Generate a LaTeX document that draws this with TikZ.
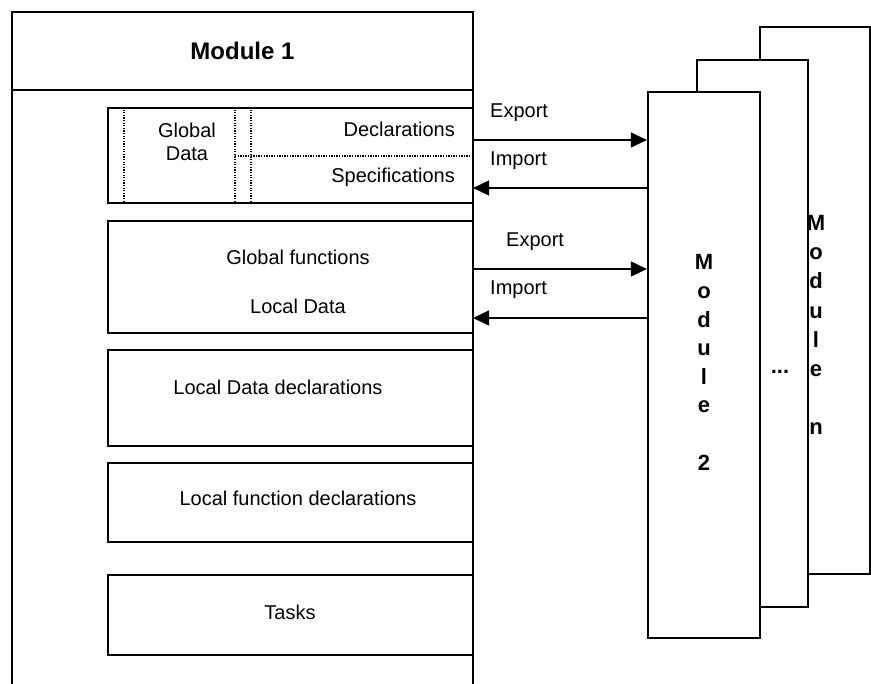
\documentclass[tikz,border=0pt]{standalone}
\usepackage{fontspec}
\setmainfont{Liberation Sans}
\usetikzlibrary{arrows.meta}

\begin{document}
\begin{tikzpicture}[x=1pt, y=-1pt,
  partbox/.style={draw, rectangle, line width=1.4pt, minimum width=365pt, inner sep=0pt},
  modbox/.style={draw, rectangle, line width=2.2pt, fill=white, inner sep=0pt},
  lbl/.style={font=\fontsize{20}{23}\selectfont, inner sep=0pt, align=center},
  modtext/.style={font=\fontsize{22}{28.6}\selectfont\bfseries, inner sep=0pt, align=center},
  dotline/.style={line width=1.2pt, dash pattern=on 1.3pt off 1.3pt},
  arr/.style={line width=1.2pt, -{Triangle[length=16pt, width=15pt]}}]
\useasboundingbox (0,0) rectangle (871,684);

% module 1
\node[inner sep=0pt, outer sep=0pt, minimum width=461pt, minimum height=78pt, font=\fontsize{24}{28}\selectfont\bfseries] (mone) at (242.5,51) {Module 1};
\draw[line width=2.2pt] (12,684) -- (mone.north west) -- (mone.north east) -- (473,684);
\draw[line width=1.4pt] (mone.south west) -- (mone.south east);

\node[partbox, minimum height=95pt, line width=2pt] (gdata) at (290.5,155.5) {};
\node[partbox, minimum height=112pt] (gfun) at (290.5,277) {};
\node[partbox, minimum height=96pt] (ldecl) at (290.5,398) {};
\node[partbox, minimum height=79pt] (fdecl) at (290.5,502.5) {};
\node[partbox, minimum height=80pt] (tasks) at (290.5,615) {};

% global data split
\draw[dotline] (124,0 |- gdata.north) -- (124,0 |- gdata.south);
\draw[dotline] (235,0 |- gdata.north) -- (235,0 |- gdata.south);
\draw[dotline] (251,0 |- gdata.north) -- (251,0 |- gdata.south);
\draw[dotline] (235,156) -- (gdata.east |- 0,156);

\node[lbl] (gdtxt) at (187,141.5) {Global\\Data};
\node[lbl, anchor=east] (decl) at (455,129) {Declarations};
\node[lbl, anchor=east] (spec) at (455,177) {Specifications};
\node[lbl] (gfuntxt) at (298,257) {Global functions};
\node[lbl] (ldata) at (298,306) {Local Data};
\node[lbl] (ldecltxt) at (278,387) {Local Data declarations};
\node[lbl] (fdecltxt) at (298,498) {Local function declarations};
\node[lbl] (taskstxt) at (290,612) {Tasks};

% the other modules
\node[modbox, minimum width=110pt, minimum height=547pt] (mn) at (815,300.5) {};
\node[modbox, minimum width=111pt, minimum height=547pt] (mdots) at (752.5,333.5) {};
\node[modbox, minimum width=112pt, minimum height=546pt] (mtwo) at (704,365) {};
\node[modtext] (mtwotxt) at (704,362.5) {M\\o\\d\\u\\l\\e\\ \\2};
\node[modtext, font=\fontsize{22}{29.1}\selectfont\bfseries] (mntxt) at (816,325) {M\\o\\d\\u\\l\\e\\ \\n};
\node[modtext] (dots) at (780,372) {...};

% export / import
\coordinate (ex1) at (473,140);
\coordinate (im1) at (473,188);
\coordinate (ex2) at (473,269);
\coordinate (im2) at (473,318);
\draw[arr] (ex1) -- (ex1 -| mtwo.west);
\draw[arr] (im1 -| mtwo.west) -- (im1);
\draw[arr] (ex2) -- (ex2 -| mtwo.west);
\draw[arr] (im2 -| mtwo.west) -- (im2);
\node[lbl, anchor=west] (ex1txt) at (490,113) {Export};
\node[lbl, anchor=west] (im1txt) at (490,161) {Import};
\node[lbl, anchor=west] (ex2txt) at (506,242) {Export};
\node[lbl, anchor=west] (im2txt) at (490,290) {Import};
\end{tikzpicture}
\end{document}
